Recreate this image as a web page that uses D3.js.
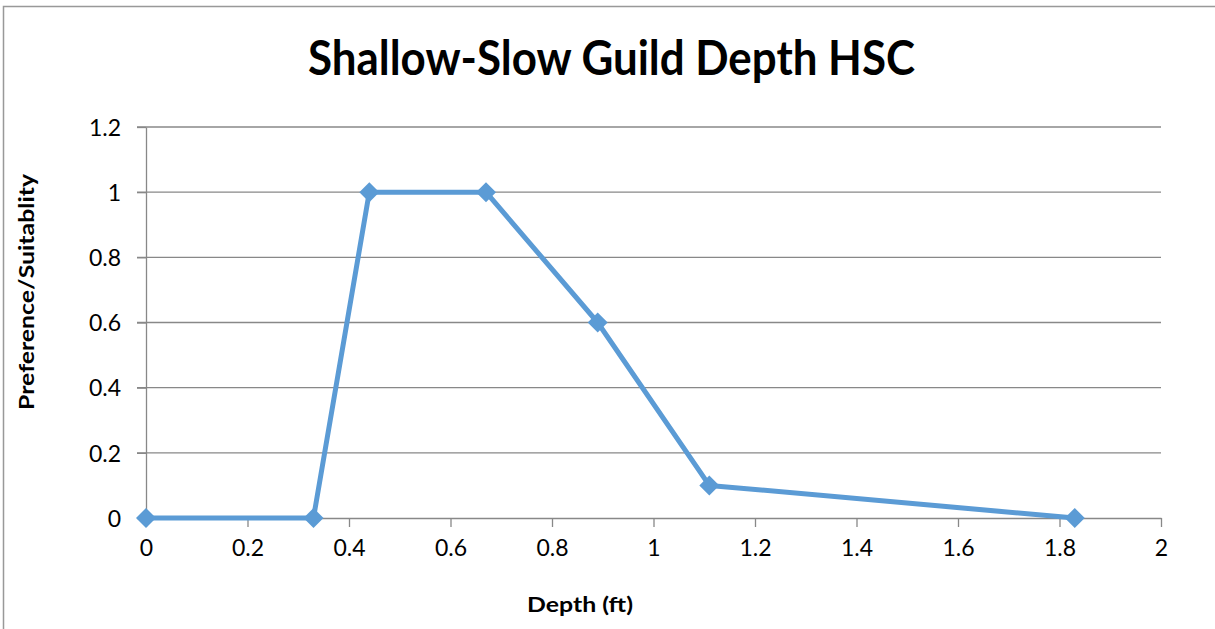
<!DOCTYPE html>
<html lang="en">
<head>
<meta charset="utf-8">
<title>Shallow-Slow Guild Depth HSC</title>
<script src="https://cdnjs.cloudflare.com/ajax/libs/d3/7.8.5/d3.min.js"></script>
<style>
body { margin: 0; background: #fff; }
svg { display: block; font-family: Lato, "Open Sans", sans-serif; }
.grid line { stroke: #888; stroke-width: 1.3; }
.axis path, .axis line { stroke: #888; stroke-width: 1.3; }
</style>
</head>
<body>
<div id="chart"></div>
<script>

var depth = [0, 0.33, 0.44, 0.67, 0.89, 1.11, 1.83];
var suitability = [0, 0, 1, 1, 0.6, 0.1, 0];
var xTicks = [0, 0.2, 0.4, 0.6, 0.8, 1, 1.2, 1.4, 1.6, 1.8, 2];
var yTicks = [0, 0.2, 0.4, 0.6, 0.8, 1, 1.2];

var width = 1215, height = 629;
var margin = {top: 127, right: 54, bottom: 111, left: 146};
var w = width - margin.left - margin.right;
var h = height - margin.top - margin.bottom;

var svg = d3.select("#chart").append("svg")
    .attr("width", width)
    .attr("height", height);

// chart border (only top and left visible)
svg.append("path")
    .attr("d", "M3.5,630 V6.5 H1215")
    .attr("fill", "none")
    .attr("stroke", "#999")
    .attr("stroke-width", 1.5);

var g = svg.append("g")
    .attr("transform", "translate(" + margin.left + "," + margin.top + ")");

var x = d3.scaleLinear().domain([0, 2]).range([0, w]);
var y = d3.scaleLinear().domain([0, 1.2]).range([h, 0]);

g.append("g")
    .attr("class", "grid")
    .selectAll("line")
    .data(yTicks.slice(1))
    .enter().append("line")
        .attr("x1", -9)
        .attr("x2", w)
        .attr("y1", d => y(d))
        .attr("y2", d => y(d));

g.append("g")
    .attr("class", "axis")
    .call(d3.axisLeft(y).tickValues(yTicks).tickSize(9).tickSizeOuter(0).tickPadding(16).tickFormat(d3.format("")))
    .call(a => a.selectAll("text").attr("dy", "0.36em"));

g.append("g")
    .attr("class", "axis")
    .attr("transform", "translate(0," + h + ")")
    .call(d3.axisBottom(x).tickValues(xTicks).tickSize(9).tickSizeOuter(0).tickPadding(13).tickFormat(d3.format("")));

g.selectAll(".axis").attr("font-family", null).attr("font-size", null);
g.selectAll(".axis text")
    .style("font-size", "23px")
    .style("fill", "#000");

var pts = depth.map((d, i) => [d, suitability[i]]);

g.append("path")
    .datum(pts)
    .attr("fill", "none")
    .attr("stroke", "#5b9bd5")
    .attr("stroke-width", 5)
    .attr("stroke-linejoin", "round")
    .attr("d", d3.line().x(d => x(d[0])).y(d => y(d[1])));

g.selectAll(".marker")
    .data(pts)
    .enter().append("path")
        .attr("class", "marker")
        .attr("fill", "#5b9bd5")
        .attr("transform", d => "translate(" + x(d[0]) + "," + y(d[1]) + ")")
        .attr("d", "M0,-10 L10,0 L0,10 L-10,0 Z");

svg.append("text")
    .attr("x", 611.5)
    .attr("y", 75)
    .attr("text-anchor", "middle")
    .style("font-size", "47px")
    .attr("font-weight", "bold")
    .attr("textLength", 607)
    .attr("lengthAdjust", "spacingAndGlyphs")
    .text("Shallow-Slow Guild Depth HSC");

svg.append("text")
    .attr("x", 580)
    .attr("y", 612)
    .attr("text-anchor", "middle")
    .style("font-size", "21px")
    .attr("font-weight", "bold")
    .attr("textLength", 106)
    .attr("lengthAdjust", "spacingAndGlyphs")
    .text("Depth (ft)");

svg.append("text")
    .attr("transform", "translate(34,292) rotate(-90)")
    .attr("text-anchor", "middle")
    .style("font-size", "21px")
    .attr("font-weight", "bold")
    .attr("textLength", 236)
    .attr("lengthAdjust", "spacingAndGlyphs")
    .text("Preference/Suitablity");

</script>
</body>
</html>
